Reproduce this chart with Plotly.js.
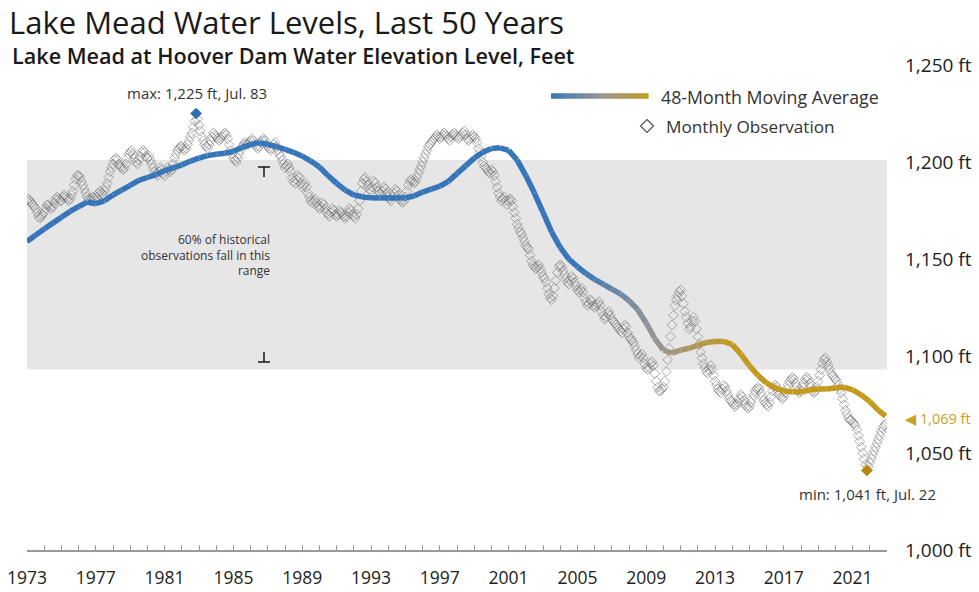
<!DOCTYPE html>
<html><head><meta charset="utf-8">
<script src="https://cdn.plot.ly/plotly-3.0.1.min.js"></script>
<style>body{margin:0;background:#fff}#chart{width:979px;height:592px}</style>
</head><body><div id="chart"></div>
<script>
// ---------- DATA ----------
const startYear = 1973;           // first monthly observation sits on the "1973" tick
const observedLevels = [
 1180,1181,1180,1179,1178,1177,1176,1174,1172,1171,1172,1173,
 1174,1176,1178,1178,1177,1176,1177,1179,1181,1182,1181,1180,
 1180,1182,1183,1182,1181,1180,1181,1183,1185,1188,1191,1193,
 1193,1192,1190,1188,1186,1184,1182,1181,1180,1181,1182,1181,
 1180,1182,1184,1185,1184,1183,1185,1187,1189,1192,1195,1197,
 1199,1201,1202,1201,1199,1198,1197,1196,1197,1199,1202,1204,
 1205,1206,1204,1202,1200,1199,1201,1203,1205,1206,1205,1203,
 1202,1203,1201,1199,1197,1195,1194,1193,1195,1197,1196,1194,
 1193,1195,1197,1196,1195,1196,1199,1202,1204,1206,1207,1208,
 1208,1207,1206,1207,1209,1211,1213,1215,1218,1221,1225,1222,
 1219,1216,1213,1211,1209,1208,1207,1209,1211,1213,1215,1214,
 1213,1212,1211,1212,1213,1214,1215,1214,1212,1209,1206,1204,
 1202,1201,1200,1202,1204,1206,1208,1209,1210,1209,1209,1210,
 1211,1212,1211,1209,1208,1207,1208,1210,1211,1212,1211,1209,
 1208,1207,1206,1207,1209,1210,1208,1206,1204,1203,1201,1199,
 1197,1198,1199,1197,1195,1192,1190,1189,1191,1193,1192,1189,
 1187,1188,1189,1187,1184,1182,1180,1179,1180,1181,1179,1177,
 1176,1177,1179,1178,1176,1174,1173,1172,1174,1176,1175,1173,
 1172,1173,1175,1174,1173,1172,1171,1172,1174,1176,1175,1173,
 1172,1171,1173,1176,1180,1185,1189,1191,1192,1190,1188,1186,
 1185,1187,1190,1189,1187,1185,1184,1183,1185,1187,1186,1184,
 1182,1181,1180,1182,1184,1186,1185,1183,1181,1180,1179,1180,
 1182,1185,1188,1190,1191,1190,1189,1190,1192,1194,1196,1198,
 1200,1202,1204,1206,1208,1209,1210,1211,1212,1213,1214,1213,
 1212,1213,1214,1215,1214,1213,1212,1211,1213,1214,1215,1214,
 1213,1212,1213,1214,1215,1216,1214,1212,1211,1212,1213,1214,
 1213,1212,1210,1207,1205,1203,1200,1198,1197,1196,1195,1194,
 1196,1195,1193,1190,1187,1184,1182,1180,1181,1182,1180,1178,
 1180,1181,1180,1177,1174,1171,1168,1166,1164,1163,1161,1159,
 1157,1156,1155,1152,1149,1147,1146,1145,1146,1147,1145,1143,
 1141,1140,1138,1135,1132,1130,1129,1131,1135,1139,1143,1146,
 1147,1146,1144,1142,1140,1138,1137,1139,1141,1140,1138,1136,
 1134,1133,1134,1135,1133,1130,1128,1126,1127,1129,1128,1126,
 1125,1126,1127,1128,1126,1123,1121,1119,1120,1122,1123,1121,
 1119,1118,1117,1116,1115,1114,1113,1112,1114,1116,1115,1112,
 1110,1109,1108,1107,1105,1103,1101,1099,1100,1101,1099,1096,
 1094,1093,1094,1096,1097,1095,1091,1087,1084,1082,1082,1083,
 1084,1087,1092,1098,1104,1110,1116,1121,1126,1129,1131,1133,
 1134,1131,1127,1123,1120,1117,1114,1115,1118,1120,1118,1114,
 1110,1106,1102,1099,1096,1094,1092,1091,1093,1095,1093,1090,
 1087,1085,1083,1082,1081,1083,1085,1084,1082,1080,1078,1077,
 1076,1075,1074,1075,1076,1078,1080,1079,1077,1075,1074,1073,
 1074,1076,1078,1080,1082,1083,1084,1083,1081,1079,1077,1076,
 1075,1074,1076,1079,1082,1084,1085,1084,1082,1080,1079,1078,
 1079,1081,1083,1085,1087,1088,1089,1088,1086,1084,1082,1081,
 1082,1084,1086,1088,1089,1088,1086,1084,1082,1081,1082,1084,
 1087,1090,1093,1096,1098,1099,1097,1095,1093,1091,1090,1089,
 1088,1087,1085,1083,1081,1078,1075,1072,1070,1068,1067,1067,
 1066,1065,1064,1062,1059,1056,1053,1050,1047,1044,1041,1043,
 1045,1047,1049,1051,1053,1055,1057,1059,1061,1063,1064,1065
];
const avgYears = [
 1973,1973.5,1974,1974.5,1975,1975.5,1976,1976.5,1977,1977.5,1978,1978.5,1979,1979.5,
 1980,1980.5,1981,1981.5,1982,1982.5,1983,1983.5,1984,1984.5,1985,1985.5,1986,1986.5,
 1987,1987.5,1988,1988.5,1989,1989.5,1990,1990.5,1991,1991.5,1992,1992.5,1993,1993.5,
 1994,1994.5,1995,1995.5,1996,1996.5,1997,1997.5,1998,1998.5,1999,1999.5,2000,2000.5,
 2001,2001.5,2002,2002.5,2003,2003.5,2004,2004.5,2005,2005.5,2006,2006.5,2007,2007.5,
 2008,2008.5,2009,2009.5,2010,2010.5,2011,2011.5,2012,2012.5,2013,2013.5,2014,2014.5,
 2015,2015.5,2016,2016.5,2017,2017.5,2018,2018.5,2019,2019.5,2020,2020.5,2021,2021.5,
 2022,2022.5,2022.92
];
const avgLevels = [
 1159,1162.3,1165.5,1168.5,1171.5,1174.5,1177,1179.4,1178.5,1180,1183,1185.5,1188,1190.5,
 1192,1193.5,1195.5,1197,1198.5,1200.5,1202,1203.3,1204,1204.5,1205.5,1207.5,1209,1210,
 1209,1208,1206.5,1205,1203,1200.5,1197.4,1193,1189,1185.5,1183,1182,1181.5,1181.5,
 1181.5,1181.5,1181.5,1182.5,1184.5,1186,1187.5,1190,1194,1198,1202,1205,1207,1207.3,
 1206,1201,1193,1184,1174,1164,1156,1150,1146,1142.5,1139.5,1137,1134.5,1132,
 1128.5,1124,1117,1109,1103,1101.5,1103,1104,1105.5,1107,1107.5,1107.5,1106,1101,
 1095,1090,1086,1083.5,1082,1081.5,1081.5,1082.5,1083,1083,1083.5,1084,1082.5,1080,
 1076.5,1072,1069
];
const xTickYears = Array.from({length: 51}, (_, i) => 1973 + i);
const xLabelYears = [1973,1977,1981,1985,1989,1993,1997,2001,2005,2009,2013,2017,2021];
const yTickValues = [1000,1050,1100,1150,1200,1250];
const yTickLabels = ["1,000 ft","1,050 ft","1,100 ft","1,150 ft","1,200 ft","1,250 ft"];
const rangeLow = 1093, rangeHigh = 1201;   // "60% of historical observations" band

// ---------- HELPERS ----------
const M = {l: 27, r: 92, t: 50, b: 42};
const W = 979, H = 592, PW = W - M.l - M.r, PH = H - M.t - M.b;
const px = x => (x - M.l) / PW;          // pixel -> paper x
const py = y => (H - M.b - y) / PH;      // pixel -> paper y
const BLUE = [55,117,185], GREY = [150,150,150], GOLD = [196,154,30];
function mix(a,b,t){return a.map((v,i)=>Math.round(v+(b[i]-v)*t));}
function ramp(t){t=Math.max(0,Math.min(1,t));const c=t<0.5?mix(BLUE,GREY,t*2):mix(GREY,GOLD,(t-0.5)*2);return `rgb(${c.join(',')})`;}
const avgColor = yr => ramp((yr - 2005) / 9);

const obsX = observedLevels.map((_, i) => startYear + i / 12);
let iMax = 0, iMin = 0;
observedLevels.forEach((v,i)=>{ if (v > observedLevels[iMax]) iMax = i; if (v < observedLevels[iMin]) iMin = i; });

const traces = [{
  type: 'scatter', mode: 'markers', x: obsX, y: observedLevels,
  marker: {symbol: 'diamond-open', size: 7.5, color: 'rgba(110,110,110,0.55)', line: {width: 1}},
  hoverinfo: 'x+y', showlegend: false
}];
for (let k = 0; k < avgYears.length - 1; k++) {
  traces.push({
    type: 'scatter', mode: 'lines',
    x: [avgYears[k], avgYears[k+1]], y: [avgLevels[k], avgLevels[k+1]],
    line: {color: avgColor((avgYears[k] + avgYears[k+1]) / 2), width: 5.5},
    hoverinfo: 'skip', showlegend: false
  });
}
traces.push({type:'scatter', mode:'markers', x:[obsX[iMax]], y:[observedLevels[iMax]],
  marker:{symbol:'diamond', size:9, color:'rgb(46,110,178)'}, showlegend:false});
traces.push({type:'scatter', mode:'markers', x:[obsX[iMin]], y:[observedLevels[iMin]],
  marker:{symbol:'diamond', size:9, color:'rgb(184,134,11)'}, showlegend:false});

const shapes = [{
  type: 'rect', xref: 'x', yref: 'y', x0: xTickYears[0], x1: xTickYears[xTickYears.length-1],
  y0: rangeLow, y1: rangeHigh, fillcolor: '#e6e6e6', line: {width: 0}, layer: 'below'
}];
// bracket marks (T and ⊥)
const bk = {color: '#222', width: 1.6};
shapes.push({type:'line', xref:'paper', yref:'paper', x0:px(258), x1:px(270), y0:py(167), y1:py(167), line:bk});
shapes.push({type:'line', xref:'paper', yref:'paper', x0:px(264), x1:px(264), y0:py(167), y1:py(177), line:bk});
shapes.push({type:'line', xref:'paper', yref:'paper', x0:px(258), x1:px(270), y0:py(362), y1:py(362), line:bk});
shapes.push({type:'line', xref:'paper', yref:'paper', x0:px(264), x1:px(264), y0:py(352), y1:py(362), line:bk});
// legend gradient line
const LG0 = 551, LG1 = 648, NSEG = 24;
for (let s = 0; s < NSEG; s++) {
  const a = LG0 + (LG1 - LG0) * s / NSEG, b = LG0 + (LG1 - LG0) * (s + 1) / NSEG + 0.6;
  shapes.push({type:'line', xref:'paper', yref:'paper', x0:px(a), x1:px(b), y0:py(96), y1:py(96),
    line:{color: ramp((s + 0.5) / NSEG), width: 5.5}});
}
// legend diamond
shapes.push({type:'path', xref:'paper', yref:'paper',
  path:`M ${px(647)} ${py(119.5)} L ${px(653.5)} ${py(126)} L ${px(647)} ${py(132.5)} L ${px(640.5)} ${py(126)} Z`,
  line:{color:'#555', width:1.2}, fillcolor:'rgba(0,0,0,0)'});

const FONT = '"Open Sans", Roboto, "DejaVu Sans", sans-serif';
const ann = (x, y, text, o = {}) => Object.assign({xref:'paper', yref:'paper', x:px(x), y:py(y), text,
  showarrow:false, font:{family:FONT, size:13, color:'#333'}, xanchor:'center', yanchor:'middle'}, o);
const annotations = [
  ann(10, 55, 'Lake Mead at Hoover Dam Water Elevation Level, Feet', {xanchor:'left', font:{family:FONT, size:21.6, color:'#1a1a1a', weight:600}}),
  ann(197, 93, 'max: 1,225 ft, Jul. 83', {font:{family:FONT, size:15, color:'#333'}}),
  ann(867, 494, 'min: 1,041 ft, Jul. 22', {font:{family:FONT, size:15, color:'#333'}}),
  ann(272, 255, '60% of historical<br>observations fall in this<br>range', {xanchor:'right', align:'right', font:{family:FONT, size:12, color:'#333'}}),
  ann(903, 418, '◀ 1,069 ft', {xanchor:'left', font:{family:FONT, size:14.5, color:'rgb(201,160,40)'}}),
  ann(659, 97, '48-Month Moving Average', {xanchor:'left', font:{family:FONT, size:17.8, color:'#333'}}),
  ann(664, 126, 'Monthly Observation', {xanchor:'left', font:{family:FONT, size:17.2, color:'#333'}})
];

const layout = {
  width: W, height: H, margin: M, paper_bgcolor: '#fff', plot_bgcolor: '#fff',
  font: {family: FONT, color: '#222'},
  title: {text: 'Lake Mead Water Levels, Last 50 Years', xref: 'container', yref: 'container',
    x: 9 / W, xanchor: 'left', y: 1 - 23 / H, yanchor: 'middle', font: {family: FONT, size: 31, color: '#1a1a1a'}},
  xaxis: {range: [xTickYears[0], xTickYears[xTickYears.length-1]], tickmode: 'array', tickvals: xTickYears,
    ticktext: xTickYears.map(y => xLabelYears.includes(y) ? String(y) : ''),
    ticks: 'inside', ticklen: 5, tickcolor: '#999', tickwidth: 1, showline: true, linecolor: '#999', linewidth: 1.5,
    showgrid: false, zeroline: false, ticklabelstandoff: 11, tickfont: {family: FONT, size: 17.5, color: '#222'}, fixedrange: true},
  yaxis: {range: [1000, 1000 + PH / 1.94], side: 'right', tickmode: 'array', tickvals: yTickValues, ticktext: yTickLabels,
    ticks: '', showgrid: false, zeroline: false, showline: false, ticklabelstandoff: 17,
    tickfont: {family: FONT, size: 19, color: '#222'}, fixedrange: true},
  shapes, annotations, showlegend: false
};
Plotly.newPlot('chart', traces, layout, {displayModeBar: false, staticPlot: true});
</script></body></html>
